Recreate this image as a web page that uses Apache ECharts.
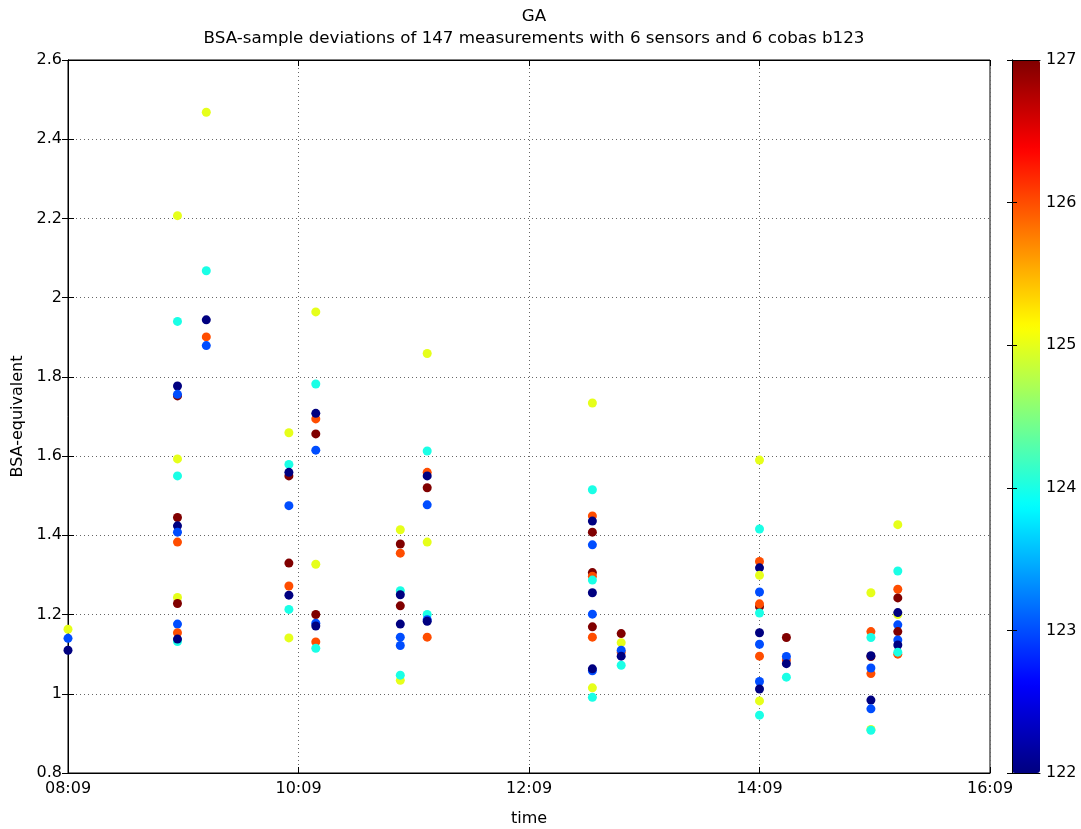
<!DOCTYPE html>
<html>
<head>
<meta charset="utf-8">
<script src="https://cdn.jsdelivr.net/npm/echarts@6/dist/echarts.min.js"></script>
<style>
  html, body { margin: 0; padding: 0; background: #fff; }
  #chart { width: 1081px; height: 829px; }
</style>
</head>
<body>
<div id="chart"></div>
<script>
// measurement times (one per run) and the BSA readings taken at each time
var runTimes = ['08:09', '09:06', '09:21', '10:04', '10:18', '11:02', '11:16',
	'12:42', '12:57', '14:09', '14:23', '15:07', '15:21'];

var runValues = [
	[1.163, 1.140, 1.110],
	[2.207, 1.940, 1.777, 1.752, 1.756, 1.593, 1.550, 1.445, 1.424, 1.408, 1.383, 1.243, 1.228, 1.176, 1.154, 1.132, 1.138],
	[2.468, 2.068, 1.944, 1.901, 1.879],
	[1.659, 1.579, 1.550, 1.559, 1.475, 1.330, 1.272, 1.249, 1.213, 1.141],
	[1.964, 1.782, 1.694, 1.708, 1.656, 1.615, 1.327, 1.200, 1.178, 1.171, 1.131, 1.115],
	[1.414, 1.378, 1.355, 1.260, 1.250, 1.222, 1.176, 1.143, 1.122, 1.034, 1.047],
	[1.859, 1.613, 1.559, 1.550, 1.520, 1.477, 1.383, 1.200, 1.187, 1.183, 1.143],
	[1.734, 1.515, 1.449, 1.436, 1.408, 1.376, 1.306, 1.297, 1.287, 1.255, 1.201, 1.169, 1.143, 1.058, 1.063, 1.015, 0.991],
	[1.152, 1.129, 1.105, 1.110, 1.095, 1.072],
	[1.590, 1.416, 1.334, 1.318, 1.299, 1.257, 1.220, 1.227, 1.204, 1.154, 1.125, 1.095, 1.031, 1.012, 0.982, 0.946],
	[1.142, 1.085, 1.094, 1.076, 1.042],
	[1.255, 1.157, 1.142, 1.094, 1.096, 1.051, 1.065, 0.984, 0.962, 0.910, 0.908],
	[1.427, 1.310, 1.264, 1.242, 1.200, 1.205, 1.174, 1.157, 1.136, 1.123, 1.100, 1.105]
];

// sensor id (colour value) of each reading above
var runSensors = [
	[125, 123, 122],
	[125, 124, 122, 127, 123, 125, 124, 127, 122, 123, 126, 125, 127, 123, 126, 124, 122],
	[125, 124, 122, 126, 123],
	[125, 124, 127, 122, 123, 127, 126, 122, 124, 125],
	[125, 124, 126, 122, 127, 123, 125, 127, 123, 122, 126, 124],
	[125, 127, 126, 124, 122, 127, 122, 123, 123, 125, 124],
	[125, 124, 126, 122, 127, 123, 125, 124, 123, 122, 126],
	[125, 124, 126, 122, 127, 123, 127, 126, 124, 122, 123, 127, 126, 123, 122, 125, 124],
	[127, 125, 126, 123, 122, 124],
	[125, 124, 126, 122, 125, 123, 127, 126, 124, 122, 123, 126, 123, 122, 125, 124],
	[127, 126, 123, 122, 124],
	[125, 126, 124, 127, 122, 126, 123, 122, 123, 125, 124],
	[125, 124, 126, 127, 125, 122, 123, 127, 123, 122, 126, 124]
];

var yTicks = [0.8, 2.6, 0.2];      // min, max, step
var colorRange = [122, 127];

var T0 = 8 * 60 + 9;
function toMin(s) {
	var p = s.split(':');
	return Number(p[0]) * 60 + Number(p[1]) - T0;
}
function pad(n) { return (n < 10 ? '0' : '') + n; }
function fmtTime(v) {
	var t = v + T0;
	return pad(Math.floor(t / 60)) + ':' + pad(t % 60);
}

// jet colormap, like matlab
function jet(t) {
	var c = function (x) { return Math.max(0, Math.min(1, x)); };
	var r = c(1.5 - Math.abs(4 * t - 3));
	var g = c(1.5 - Math.abs(4 * t - 2));
	var b = c(1.5 - Math.abs(4 * t - 1));
	return 'rgb(' + Math.round(r * 255) + ',' + Math.round(g * 255) + ',' + Math.round(b * 255) + ')';
}
var jetStops = [];
for (var k = 0; k <= 8; k++) jetStops.push(jet(k / 8));

var points = [];
runTimes.forEach(function (t, r) {
	runValues[r].forEach(function (v, j) {
		points.push([toMin(t), v, runSensors[r][j]]);
	});
});

var FONT = 'DejaVu Sans';
var gridLine = { show: true, lineStyle: { color: '#666', type: [1, 3], width: 1 } };
var blackTick = { show: true, inside: true, length: 6, lineStyle: { color: '#000' } };
var plainLine = { show: true, lineStyle: { color: '#000' } };

var chart = echarts.init(document.getElementById('chart'));
var option = {
	animation: false,
	backgroundColor: '#fff',
	textStyle: { fontFamily: FONT },
	title: {
		text: 'GA\nBSA-sample deviations of 147 measurements with 6 sensors and 6 cobas b123',
		left: 529, top: 1, textAlign: 'center',
		textStyle: { fontFamily: FONT, fontSize: 16.7, fontWeight: 'normal', color: '#000', lineHeight: 22 }
	},
	grid: [
		{ left: 68, right: 91, top: 60, bottom: 56, show: true, borderColor: '#000', borderWidth: 1, outerBoundsMode: 'none' },
		{ left: 1012, width: 28, top: 60, bottom: 56, outerBoundsMode: 'none' }
	],
	// colours the dots and doubles as the colour bar
	visualMap: {
		show: true, type: 'continuous', dimension: 2, seriesIndex: 0,
		min: colorRange[0], max: colorRange[1],
		calculable: false, hoverLink: false, text: null, showLabel: false,
		left: 1012, top: 60, padding: 0,
		itemWidth: 28, itemHeight: 713,
		inRange: { color: jetStops }
	},
	xAxis: [
		{
			type: 'value', gridIndex: 0, min: 0, max: 480, interval: 120,
			name: 'time', nameLocation: 'middle', nameGap: 38,
			nameTextStyle: { fontSize: 16, color: '#000' },
			axisLine: plainLine,
			axisTick: blackTick,
			axisLabel: { fontSize: 16, color: '#000', margin: 8, formatter: fmtTime },
			splitLine: gridLine
		},
		{
			type: 'value', gridIndex: 0, position: 'top', min: 0, max: 480, interval: 120,
			axisLine: plainLine,
			axisTick: blackTick,
			axisLabel: { show: false }, splitLine: { show: false }
		},
		{
			type: 'value', gridIndex: 1, position: 'bottom', min: 0, max: 1, z: 10,
			axisLine: plainLine,
			axisTick: { show: false }, axisLabel: { show: false }, splitLine: { show: false }
		},
		{
			type: 'value', gridIndex: 1, position: 'top', min: 0, max: 1, z: 10,
			axisLine: plainLine,
			axisTick: { show: false }, axisLabel: { show: false }, splitLine: { show: false }
		}
	],
	yAxis: [
		{
			type: 'value', gridIndex: 0, min: yTicks[0], max: yTicks[1], interval: yTicks[2],
			name: 'BSA-equivalent', nameLocation: 'middle', nameGap: 37,
			nameTextStyle: { fontSize: 16, color: '#000' },
			axisLine: plainLine,
			axisTick: blackTick,
			axisLabel: { fontSize: 16, color: '#000', margin: 6 },
			splitLine: gridLine
		},
		{
			type: 'value', gridIndex: 0, position: 'right', min: yTicks[0], max: yTicks[1], interval: yTicks[2],
			axisLine: plainLine,
			axisTick: blackTick,
			axisLabel: { show: false }, splitLine: { show: false }
		},
		{
			type: 'value', gridIndex: 1, position: 'left', min: colorRange[0], max: colorRange[1], interval: 1, z: 10,
			axisLine: plainLine,
			axisTick: { show: true, inside: true, length: 5, lineStyle: { color: '#000' } },
			axisLabel: { show: false },
			splitLine: { show: false }
		},
		{
			type: 'value', gridIndex: 1, position: 'right', min: colorRange[0], max: colorRange[1], interval: 1, z: 10,
			axisLine: plainLine,
			axisTick: { show: true, inside: true, length: 5, lineStyle: { color: '#000' } },
			axisLabel: { fontSize: 16, color: '#000', margin: 6 },
			splitLine: { show: false }
		}
	],
	series: [
		{
			type: 'scatter', xAxisIndex: 0, yAxisIndex: 0,
			symbol: 'circle', symbolSize: 9, clip: false,
			itemStyle: { opacity: 1 },
			data: points
		}
	]
};
chart.setOption(option);
</script>
</body>
</html>
